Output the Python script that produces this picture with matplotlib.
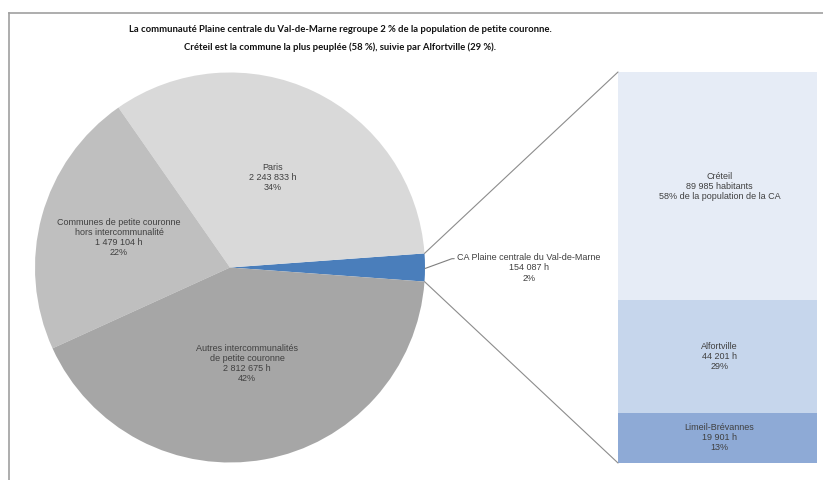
import matplotlib
matplotlib.use("Agg")
import matplotlib.pyplot as plt
from matplotlib.patches import ConnectionPatch
from matplotlib.lines import Line2D
import numpy as np

# ---- data ----
pie_names = ["CA Plaine centrale du Val-de-Marne", "Paris",
             "Communes de petite couronne\nhors intercommunalité",
             "Autres intercommunalités\nde petite couronne"]
pie_values = [154087, 2243833, 1479104, 2812675]
pie_value_labels = ["154 087 h", "2 243 833 h", "1 479 104 h", "2 812 675 h"]
pie_pct_labels = ["2%", "34%", "22%", "42%"]
pie_colors = ["#4a7ebb", "#d9d9d9", "#bfbfbf", "#a6a6a6"]

bar_names = ["Limeil-Brévannes", "Alfortville", "Créteil"]
bar_values = [19901, 44201, 89985]
bar_value_labels = ["19 901 h", "44 201 h", "89 985 habitants"]
bar_pct_labels = ["13%", "29%", "58% de la population de la CA"]
bar_colors = ["#8eaad6", "#c6d6ec", "#e6ecf6"]

title_lines = ["La communauté Plaine centrale du Val-de-Marne regroupe 2 % de la population de petite couronne.",
               "Créteil est la commune la plus peuplée (58 %), suivie par Alfortville (29 %)."]

W, H = 823, 480
fig = plt.figure(figsize=(W / 100, H / 100), dpi=100)
fig.patch.set_facecolor("white")

# main axes in pixel coordinates (y up)
ax = fig.add_axes([0, 0, 1, 1])
ax.set_xlim(0, W)
ax.set_ylim(0, H)

cx, cy, R = 230, H - 267.5, 195
total = sum(pie_values)
start = -360 * pie_values[0] / total / 2
wedges, _ = ax.pie(pie_values, colors=pie_colors, startangle=start,
                   counterclock=True, center=(cx, cy), radius=R, frame=True,
                   wedgeprops=dict(linewidth=0))
ax.set_xlim(0, W)
ax.set_ylim(0, H)
ax.set_aspect("auto")
ax.axis("off")

label_color = "#404040"
lab_font = dict(family=["Liberation Sans", "DejaVu Sans"], fontsize=6.5, color=label_color)

fracs = [None, 0.51, 0.59, 0.50]
for i in range(1, 4):
    w = wedges[i]
    mid = np.deg2rad((w.theta1 + w.theta2) / 2)
    x = cx + R * fracs[i] * np.cos(mid)
    y = cy + R * fracs[i] * np.sin(mid)
    ax.text(x, y, f"{pie_names[i]}\n{pie_value_labels[i]}\n{pie_pct_labels[i]}",
            ha="center", va="center", multialignment="center", linespacing=1.15, **lab_font)

# CA label with leader line
w0 = wedges[0]
mid0 = np.deg2rad((w0.theta1 + w0.theta2) / 2)
ax.annotate(f"{pie_names[0]}\n{pie_value_labels[0]}\n{pie_pct_labels[0]}",
            xy=(cx + R * np.cos(mid0), cy + R * np.sin(mid0) - 1),
            xytext=(457, H - 268), ha="left", va="center", multialignment="center",
            linespacing=1.15,
            arrowprops=dict(arrowstyle="-", color="#7f7f7f", lw=0.8, shrinkA=0, shrinkB=0,
                            relpos=(0, 0.82), connectionstyle="angle,angleA=0,angleB=20,rad=0"),
            **lab_font)

# ---- stacked bar ----
bx0, bx1, by0, by1 = 618, 817, H - 463, H - 72
ax2 = fig.add_axes([bx0 / W, by0 / H, (bx1 - bx0) / W, (by1 - by0) / H])
bar_total = sum(bar_values)
bottom = 0
for name, v, vl, pl, c in zip(bar_names, bar_values, bar_value_labels, bar_pct_labels, bar_colors):
    ax2.bar([0], [v], bottom=bottom, width=1.0, color=c, edgecolor="none")
    ax2.text(0.01, bottom + v / 2, f"{name}\n{vl}\n{pl}", ha="center", va="center",
             multialignment="center", linespacing=1.15, **lab_font)
    bottom += v
ax2.set_xlim(-0.5, 0.5)
ax2.set_ylim(0, bar_total)
ax2.axis("off")

# connection lines
for theta, ybar in [(w0.theta2, bar_total), (w0.theta1, 0)]:
    t = np.deg2rad(theta)
    con = ConnectionPatch(xyA=(cx + R * np.cos(t), cy + R * np.sin(t)), coordsA=ax.transData,
                          xyB=(-0.5, ybar), coordsB=ax2.transData,
                          color="#8c8c8c", lw=0.8)
    fig.add_artist(con)

# ---- title ----
title_font = dict(family=["Lato", "DejaVu Sans"], fontsize=6.8, fontweight="bold", color="#111111")
ax.text(340, H - 29, title_lines[0], ha="center", va="center", **title_font)
ax.text(340, H - 47.5, title_lines[1], ha="center", va="center", **title_font)

# ---- chart border ----
bc = "#a0a0a0"
fig.add_artist(Line2D([9 / W, 1], [1 - 13 / H, 1 - 13 / H], transform=fig.transFigure, color=bc, lw=1.2))
fig.add_artist(Line2D([9 / W, 9 / W], [0, 1 - 13 / H], transform=fig.transFigure, color=bc, lw=1.2))

fig.savefig("out.png", dpi=100)
